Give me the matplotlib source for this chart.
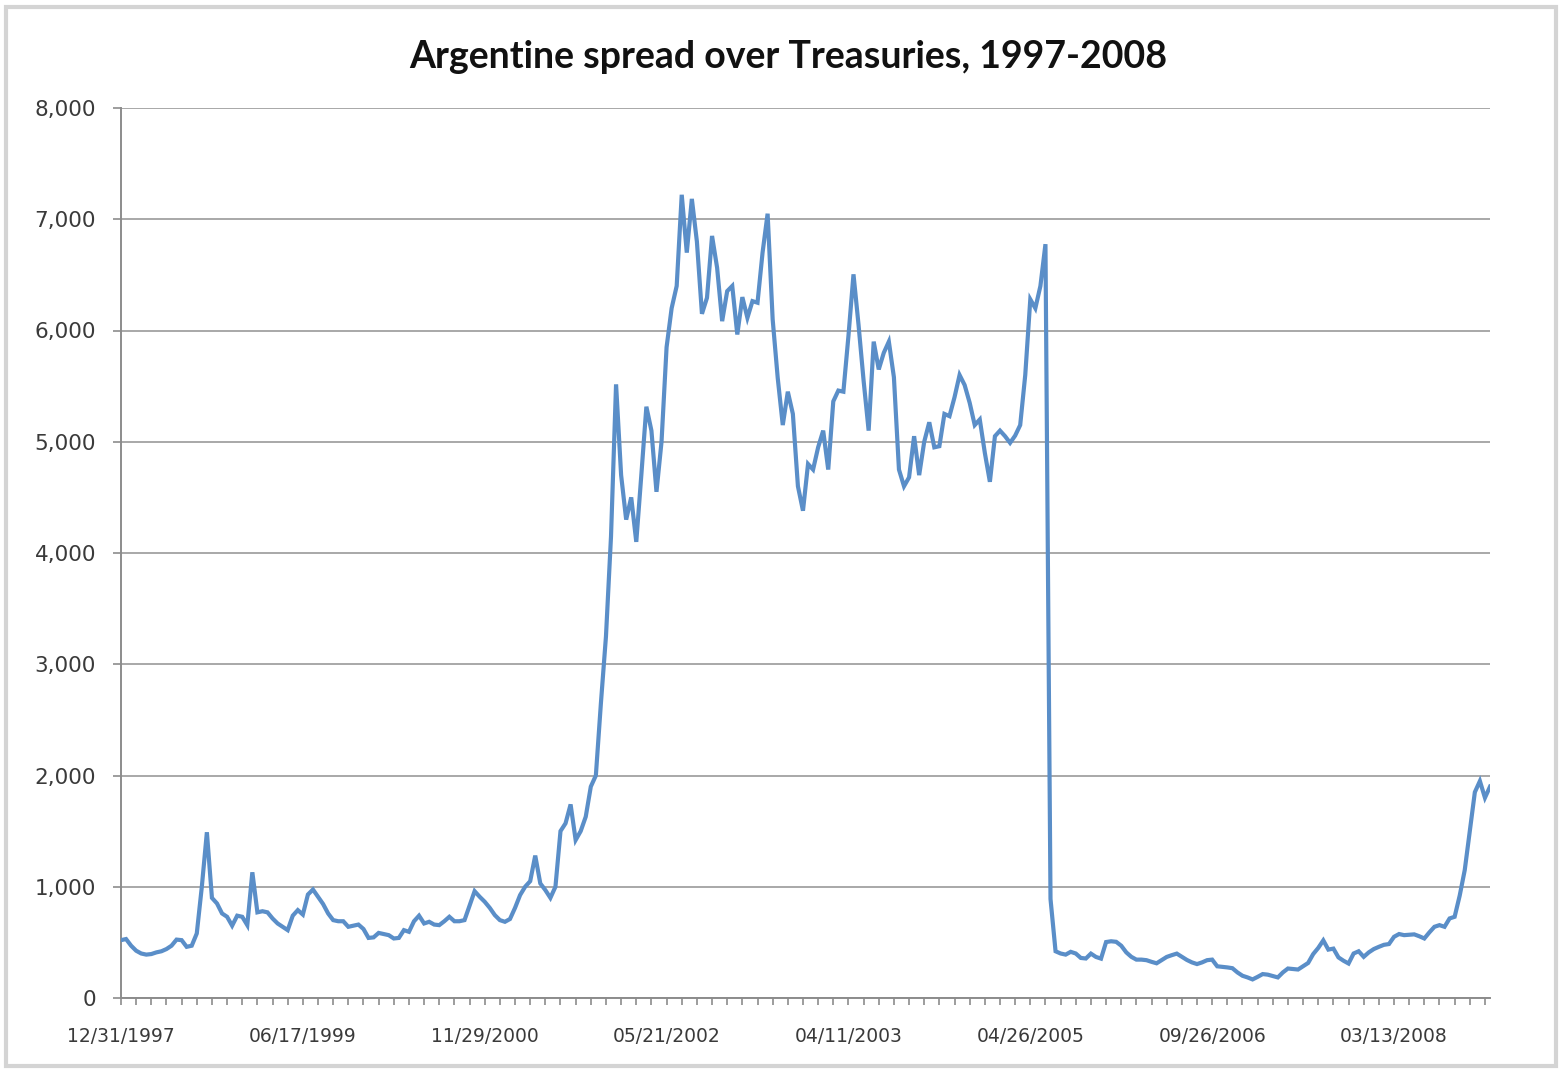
import matplotlib
matplotlib.use("Agg")
import matplotlib.pyplot as plt
from matplotlib.patches import Rectangle
from matplotlib.ticker import MultipleLocator, FixedLocator, FuncFormatter

plt.rcParams['font.family'] = ['Lato', 'DejaVu Sans']

# Argentine sovereign spread over US Treasuries (basis points), one value per observation
spread_bp = [
    520, 530, 470, 425, 400, 390, 395, 410, 420, 440,
    470, 525, 520, 460, 470, 580, 1000, 1490, 900, 850,
    760, 730, 650, 740, 730, 655, 1130, 770, 780, 770,
    715, 670, 640, 610, 740, 790, 750, 930, 975, 910,
    845, 760, 700, 690, 690, 640, 650, 660, 620, 540,
    545, 585, 575, 565, 535, 540, 610, 595, 690, 740,
    670, 685, 660, 655, 690, 730, 690, 690, 700, 830,
    960, 910, 865, 810, 745, 700, 685, 710, 810, 925,
    1000, 1050, 1280, 1030, 970, 900, 1000, 1500, 1570, 1740,
    1420, 1500, 1630, 1900, 2000, 2650, 3250, 4150, 5516, 4700,
    4300, 4500, 4100, 4700, 5315, 5100, 4550, 5000, 5850, 6200,
    6400, 7220, 6700, 7183, 6800, 6150, 6294, 6850, 6565, 6084,
    6354, 6400, 5964, 6300, 6114, 6264, 6250, 6700, 7050, 6100,
    5574, 5150, 5450, 5250, 4600, 4380, 4800, 4750, 4950, 5100,
    4750, 5363, 5460, 5450, 5950, 6505, 6050, 5550, 5100, 5900,
    5650, 5800, 5900, 5580, 4750, 4600, 4680, 5050, 4700, 5000,
    5175, 4950, 4960, 5250, 5230, 5400, 5600, 5510, 5350, 5150,
    5200, 4900, 4640, 5050, 5100, 5050, 4990, 5055, 5150, 5600,
    6280, 6200, 6400, 6776, 890, 420, 400, 390, 415, 400,
    360, 355, 399, 369, 354, 503, 510, 505, 470, 410,
    370, 345, 345, 340, 325, 312, 340, 369, 385, 399,
    370, 342, 320, 305, 320, 340, 345, 285, 280, 275,
    268, 230, 200, 185, 167, 190, 215, 210, 198, 185,
    230, 265, 260, 256, 285, 315, 395, 450, 518, 435,
    444, 365, 335, 310, 400, 420, 370, 410, 440, 460,
    478, 485, 550, 575, 565, 568, 572, 555, 535, 590,
    640, 655, 640, 715, 730, 920, 1150, 1500, 1850, 1950,
    1800, 1900,
]

date_labels = ['12/31/1997', '06/17/1999', '11/29/2000', '05/21/2002',
               '04/11/2003', '04/26/2005', '09/26/2006', '03/13/2008']
label_every = 36      # observations between labelled dates
tick_every = 3        # observations between minor tick marks

title = 'Argentine spread over Treasuries, 1997-2008'

W, H = 1562, 1071
fig = plt.figure(figsize=(W / 100, H / 100), dpi=100)
fig.patch.set_facecolor('white')

# light frame around the chart
fig.add_artist(Rectangle((6 / W, 1 - 1066 / H), (1556 - 6) / W, (1066 - 7) / H,
                         transform=fig.transFigure, fill=False,
                         edgecolor='#d4d4d4', linewidth=3, zorder=0))

ax = fig.add_axes([121 / W, 1 - 998 / H, (1490 - 121) / W, (998 - 108) / H])

x = list(range(len(spread_bp)))
ax.plot(x, spread_bp, color='#5a8ec8', linewidth=3.0, solid_joinstyle='miter', zorder=3)

ax.set_xlim(0, len(spread_bp) - 1)
ax.set_ylim(0, 8000)

grid_color = '#a8a8a8'
ax.yaxis.set_major_locator(MultipleLocator(1000))
ax.yaxis.set_major_formatter(FuncFormatter(lambda v, p: f'{int(v):,}'))
ax.grid(axis='y', color=grid_color, linewidth=1.4, zorder=1)
ax.set_axisbelow(True)

major_pos = [i * label_every for i in range(len(date_labels))]
ax.xaxis.set_major_locator(FixedLocator(major_pos))
ax.set_xticklabels(date_labels)
ax.xaxis.set_minor_locator(MultipleLocator(tick_every))

for side in ('top', 'right'):
    ax.spines[side].set_visible(False)
for side in ('left', 'bottom'):
    ax.spines[side].set_color('#8c8c8c')
    ax.spines[side].set_linewidth(1.4)

ax.tick_params(axis='y', which='major', direction='out', length=6, width=1.2,
               color='#8c8c8c', labelsize=15.5, labelcolor='#3a3a3a', pad=12)
ax.tick_params(axis='x', which='both', direction='out', length=5, width=1.2,
               color='#8c8c8c')
ax.tick_params(axis='x', which='major', labelsize=13.5, labelcolor='#3a3a3a', pad=16)
for lab in ax.get_xticklabels() + ax.get_yticklabels():
    lab.set_family(['DejaVu Sans'])

fig.text(788 / W, 1 - 57 / H, title, ha='center', va='center',
         fontsize=27, fontweight='bold', color='#111111')

fig.savefig('out.png', dpi=100, facecolor='white')
